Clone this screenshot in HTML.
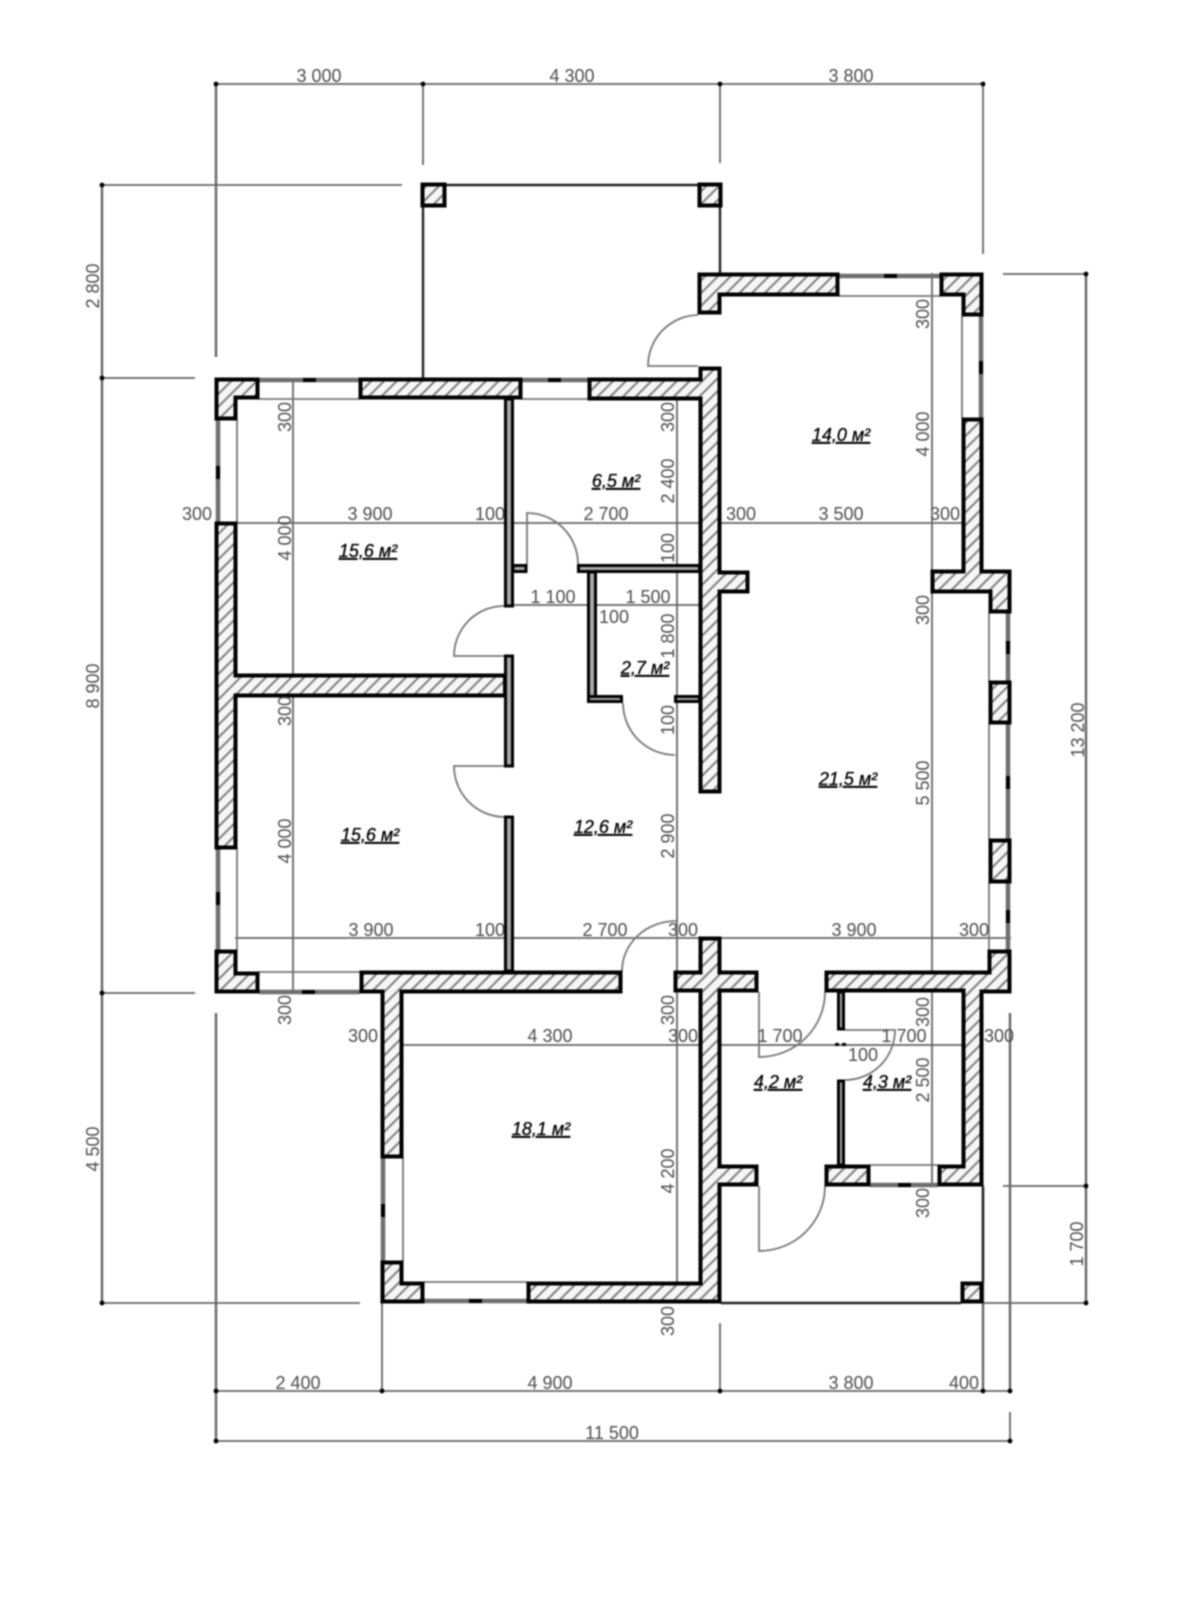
<!DOCTYPE html>
<html><head><meta charset="utf-8"><style>
html,body{margin:0;padding:0;background:#fff}
svg{display:block;filter:blur(.7px)}
text{font-family:"Liberation Sans",sans-serif;font-size:18px;fill:#4d4d4d;text-anchor:middle}
.r{font-style:italic;font-size:18px;fill:#000;stroke:#000;stroke-width:.3;text-decoration:underline}
.d{stroke:#666;stroke-width:1.8;fill:none}
.v{stroke:#666;stroke-width:2.4;fill:none}
.k{stroke:#222;stroke-width:2.4;fill:none}
.w{fill:url(#h);stroke:#000;stroke-width:4;stroke-linejoin:miter}
.t{fill:#a8a8a8;stroke:#000;stroke-width:3}
.g{stroke:#6e6e6e;stroke-width:4.5;fill:none}
.i{stroke:#777;stroke-width:1.8;fill:none}
.a{stroke:#777;stroke-width:1.8;fill:none}
.m{fill:#000}
</style></head><body>
<svg width="1200" height="1600" viewBox="0 0 1200 1600" xmlns="http://www.w3.org/2000/svg">
<defs><pattern id="h" width="9" height="9" patternUnits="userSpaceOnUse" patternTransform="rotate(45)"><rect width="9" height="9" fill="#f6f6f6"/><rect width="2" height="9" fill="#808080"/></pattern></defs>
<rect width="1200" height="1600" fill="#fff"/>

<!-- dimension lines -->
<g class="d">
<path d="M216 84H983M216 1391H1010M216 1441H1010"/>
<path d="M423 84V165M720 84V163M983 84V254"/>
<path d="M102 185H402M102 378H195M102 993H195M102 1303H360"/>
<path d="M1003 274H1086M1003 1186H1086M983 1303H1086"/>
<path d="M382 1303V1391M720 1323V1391M1010 1412V1441"/>
<path d="M216 523H983M235 938H1011M381 1045H983M514 605H699"/>
<path d="M293 378V993M677 378V1303M932 273V1186"/>
</g>
<path class="v" d="M216 84V357M102 185V1303M1086 274V1303M216 1013V1441M983 1186V1391M1010 1013V1391"/>
<g class="m">
<circle cx="216" cy="84" r="2.4"/><circle cx="423" cy="84" r="2.4"/><circle cx="720" cy="84" r="2.4"/><circle cx="983" cy="84" r="2.4"/>
<circle cx="102" cy="185" r="2.4"/><circle cx="102" cy="378" r="2.4"/><circle cx="102" cy="993" r="2.4"/><circle cx="102" cy="1303" r="2.4"/>
<circle cx="1086" cy="274" r="2.4"/><circle cx="1086" cy="1186" r="2.4"/><circle cx="1086" cy="1303" r="2.4"/>
<circle cx="216" cy="1391" r="2.4"/><circle cx="382" cy="1391" r="2.4"/><circle cx="720" cy="1391" r="2.4"/><circle cx="983" cy="1391" r="2.4"/><circle cx="1010" cy="1391" r="2.4"/>
<circle cx="216" cy="1441" r="2.4"/><circle cx="1010" cy="1441" r="2.4"/>
</g>

<!-- porch lines -->
<path class="k" d="M423 207V378M446 185H698M720 207V273M721 1303H961M983 1186V1282"/>

<!-- windows -->
<path class="g" d="M259 380H359M522 380H588M839 276H940M218 420V522M218 849V950M259 992H360M383 1158V1261M424 1301H527M981 316V418M1008 613V681M1008 724V839M1008 883V950M870 1185H938"/>
<path class="i" d="M259 399H359M522 399H588M839 296H940M237 420V522M237 849V950M259 972H360M403 1158V1261M424 1282H527M962 316V418M989 613V681M989 724V839M989 883V950M870 1165H938"/>
<g class="m">
<rect x="303" y="378" width="13" height="4"/><rect x="548" y="378" width="13" height="4"/><rect x="884" y="274" width="13" height="4"/>
<rect x="216" y="466" width="4" height="13"/><rect x="216" y="892" width="4" height="13"/><rect x="302" y="990" width="13" height="4"/>
<rect x="381" y="1204" width="4" height="13"/><rect x="469" y="1299" width="13" height="4"/><rect x="979" y="361" width="4" height="13"/>
<rect x="1006" y="641" width="4" height="13"/><rect x="1006" y="776" width="4" height="13"/><rect x="1006" y="910" width="4" height="13"/><rect x="898" y="1183" width="13" height="4"/>
<rect x="835" y="1043" width="4" height="3"/><rect x="842" y="1043" width="4" height="3"/>
</g>

<!-- door swings -->
<g class="a">
<path d="M698 366H648A51 51 0 0 1 698 315"/>
<path d="M527 564V513A51 51 0 0 1 578 564"/>
<path d="M504 656H454A50 50 0 0 1 504 606"/>
<path d="M504 766H454A51 51 0 0 0 504 817"/>
<path d="M623 703A52 52 0 0 0 675 755"/>
<path d="M622 971A54 50 0 0 1 676 921"/>
<path d="M759 992V1057A66 65 0 0 0 825 992"/>
<path d="M759 1186V1251A66 65 0 0 0 825 1186"/>
<path d="M845 1030H895A50 50 0 0 1 845 1080"/>
</g>

<!-- thin walls -->
<g class="t">
<rect x="505.500" y="399" width="7" height="207"/>
<rect x="505.500" y="656" width="7" height="110"/>
<rect x="505.500" y="817" width="7" height="154"/>
<rect x="513" y="565.500" width="13" height="6"/>
<rect x="578.500" y="565.500" width="121" height="6"/>
<rect x="588.500" y="572" width="7" height="129.500"/>
<rect x="588.500" y="696.500" width="33" height="5"/>
<rect x="675.500" y="696.500" width="24" height="5"/>
<rect x="838.500" y="992" width="5" height="37"/>
<rect x="838.500" y="1081" width="5" height="84"/>
</g>

<!-- hatched walls -->
<g class="w">
<polygon points="589.500,379.500 700.500,379.500 700.500,368.500 719.500,368.500 719.500,572.500 747.500,572.500 747.500,591.500 719.500,591.500 719.500,791.500 700.500,791.500 700.500,398.500 589.500,398.500"/>
<polygon points="699.500,274.500 837.500,274.500 837.500,294.500 719.500,294.500 719.500,312.500 699.500,312.500"/>
<polygon points="941.500,274.500 981.500,274.500 981.500,314.500 963.500,314.500 963.500,294.500 941.500,294.500"/>
<polygon points="963.500,419.500 981.500,419.500 981.500,571.500 1009.500,571.500 1009.500,611.500 990.500,611.500 990.500,591.500 932.500,591.500 932.500,571.500 963.500,571.500"/>
<polygon points="216.500,379.500 257.500,379.500 257.500,397.500 235.500,397.500 235.500,418.500 216.500,418.500"/>
<rect x="360.500" y="379.500" width="160" height="18"/>
<polygon points="216.500,523.500 235.500,523.500 235.500,675.500 505,675.500 505,695.500 235.500,695.500 235.500,847.500 216.500,847.500"/>
<polygon points="216.500,951.500 235.500,951.500 235.500,973.500 257.500,973.500 257.500,991.500 216.500,991.500"/>
<polygon points="361.500,972.500 620.500,972.500 620.500,991.500 401.500,991.500 401.500,1156.500 382.500,1156.500 382.500,991.500 361.500,991.500"/>
<polygon points="382.500,1262.500 401.500,1262.500 401.500,1283.500 422.500,1283.500 422.500,1301.500 382.500,1301.500"/>
<polygon points="528.500,1283.500 700.500,1283.500 700.500,990.500 675.500,990.500 675.500,972.500 700.500,972.500 700.500,938.500 719.500,938.500 719.500,972.500 756.500,972.500 756.500,990.500 719.500,990.500 719.500,1166.500 756.500,1166.500 756.500,1184.500 719.500,1184.500 719.500,1301.500 528.500,1301.500"/>
<polygon points="826.500,972.500 989.500,972.500 989.500,951.500 1009.500,951.500 1009.500,991.500 981.500,991.500 981.500,1184.500 939.500,1184.500 939.500,1166.500 963.500,1166.500 963.500,990.500 826.500,990.500"/>
<rect x="826.500" y="1166.500" width="42" height="18"/>
<rect x="962.500" y="1283.500" width="19" height="18"/>
<rect x="422.500" y="184.500" width="22" height="21"/>
<rect x="699.500" y="184.500" width="21" height="21"/>
<rect x="990.500" y="682.500" width="19" height="40"/>
<rect x="990.500" y="840.500" width="19" height="41"/>
</g>

<!-- horizontal dimension text -->
<text x="319" y="82">3 000</text><text x="572" y="82">4 300</text><text x="851" y="82">3 800</text>
<text x="298" y="1389">2 400</text><text x="550" y="1389">4 900</text><text x="851" y="1389">3 800</text><text x="964" y="1389">400</text>
<text x="612" y="1439">11 500</text>
<text x="197" y="520">300</text><text x="370" y="520">3 900</text><text x="490" y="520">100</text><text x="606" y="520">2 700</text><text x="741" y="520">300</text><text x="841" y="520">3 500</text><text x="945" y="520">300</text>
<text x="371" y="936">3 900</text><text x="490" y="936">100</text><text x="605" y="936">2 700</text><text x="683" y="936">300</text><text x="854" y="936">3 900</text><text x="974" y="936">300</text>
<text x="363" y="1042">300</text><text x="550" y="1042">4 300</text><text x="683" y="1042">300</text><text x="780" y="1042">1 700</text><text x="904" y="1042">1 700</text><text x="999" y="1042">300</text><text x="863" y="1061">100</text>
<text x="553" y="603">1 100</text><text x="648" y="603">1 500</text><text x="614" y="623">100</text>

<!-- vertical dimension text -->
<text transform="translate(291 417) rotate(-90)">300</text>
<text transform="translate(291 538) rotate(-90)">4 000</text>
<text transform="translate(291 711) rotate(-90)">300</text>
<text transform="translate(291 841) rotate(-90)">4 000</text>
<text transform="translate(291 1010) rotate(-90)">300</text>
<text transform="translate(674 417) rotate(-90)">300</text>
<text transform="translate(674 481) rotate(-90)">2 400</text>
<text transform="translate(674 548) rotate(-90)">100</text>
<text transform="translate(674 636) rotate(-90)">1 800</text>
<text transform="translate(674 720) rotate(-90)">100</text>
<text transform="translate(674 836) rotate(-90)">2 900</text>
<text transform="translate(674 1010) rotate(-90)">300</text>
<text transform="translate(674 1171) rotate(-90)">4 200</text>
<text transform="translate(674 1321) rotate(-90)">300</text>
<text transform="translate(929 314) rotate(-90)">300</text>
<text transform="translate(929 434) rotate(-90)">4 000</text>
<text transform="translate(929 610) rotate(-90)">300</text>
<text transform="translate(929 783) rotate(-90)">5 500</text>
<text transform="translate(929 1012) rotate(-90)">300</text>
<text transform="translate(929 1080) rotate(-90)">2 500</text>
<text transform="translate(929 1203) rotate(-90)">300</text>
<text transform="translate(99 286) rotate(-90)">2 800</text>
<text transform="translate(99 686) rotate(-90)">8 900</text>
<text transform="translate(99 1149) rotate(-90)">4 500</text>
<text transform="translate(1084 730) rotate(-90)">13 200</text>
<text transform="translate(1083 1244) rotate(-90)">1 700</text>

<!-- room labels -->
<text class="r" x="841" y="441">14,0 м²</text>
<text class="r" x="616" y="487">6,5 м²</text>
<text class="r" x="368" y="557">15,6 м²</text>
<text class="r" x="645" y="674">2,7 м²</text>
<text class="r" x="848" y="785">21,5 м²</text>
<text class="r" x="603" y="833">12,6 м²</text>
<text class="r" x="370" y="841">15,6 м²</text>
<text class="r" x="541" y="1135">18,1 м²</text>
<text class="r" x="778" y="1088">4,2 м²</text>
<text class="r" x="887" y="1088">4,3 м²</text>
</svg>
</body></html>
